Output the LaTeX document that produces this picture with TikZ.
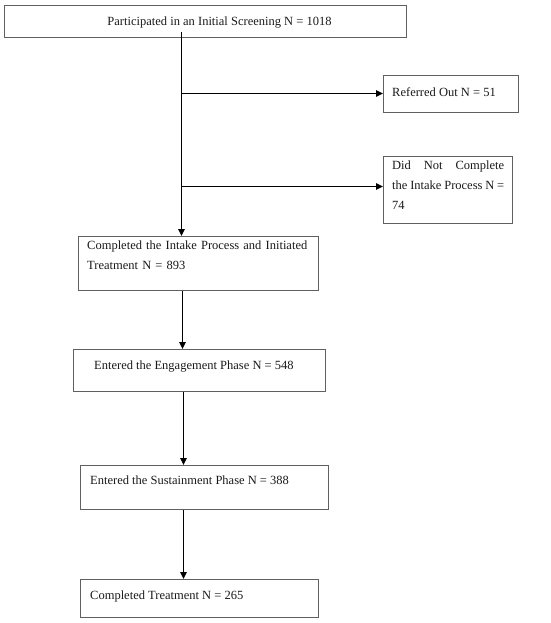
\documentclass[tikz,border=0pt]{standalone}
\usepackage{fontspec}
\setmainfont{Liberation Serif}
\usetikzlibrary{arrows.meta}
\definecolor{boxgray}{HTML}{606060}
\tikzset{
  flowbox/.style={draw=boxgray, line width=0.9pt, rectangle, inner sep=0pt, anchor=north west},
  lbl/.style={anchor=base west, inner sep=0pt, text=black!90, font=\fontsize{12.5}{20}\selectfont},
  conn/.style={draw=black, line width=1.4pt, -{Triangle[length=7pt,width=6.5pt]}},
}
\begin{document}
\begin{tikzpicture}[x=1pt,y=-1pt]
\useasboundingbox (0,0) rectangle (550,623);
% boxes
\node[flowbox, minimum width=402pt, minimum height=32pt] (screen) at (4,5) {};
\node[flowbox, minimum width=135pt, minimum height=37pt] (ref) at (383,75) {};
\node[flowbox, minimum width=129pt, minimum height=67pt] (dnc) at (383,156) {};
\node[flowbox, minimum width=240pt, minimum height=54pt] (intake) at (78,236) {};
\node[flowbox, minimum width=252pt, minimum height=42pt] (engage) at (73,349) {};
\node[flowbox, minimum width=248pt, minimum height=44pt] (sustain) at (80,465) {};
\node[flowbox, minimum width=238pt, minimum height=38pt] (done) at (80,579) {};
% texts
\node[lbl, anchor=base] (t1) at (219.5,26) {Participated in an Initial Screening N = 1018};
\node[lbl] (t2) at (392,97) {Referred Out N = 51};
\node[lbl, anchor=north west, text width=112pt, align=justify] (t3) at (392,161) {\baselineskip=20pt\emergencystretch=20pt Did Not Complete\linebreak the Intake Process N =\linebreak 74};
\node[lbl, anchor=north west, text width=232pt, align=left] (t4) at (87,241) {\baselineskip=20pt Completed the Intake Process and Initiated\\Treatment N = 893};
\node[lbl] (t5) at (94,369) {Entered the Engagement Phase N = 548};
\node[lbl] (t6) at (90,484) {Entered the Sustainment Phase N = 388};
\node[lbl] (t7) at (90,599) {Completed Treatment N = 265};
% connectors
\coordinate (top) at (181.5,32);
\coordinate (b1) at (181.5,93.5);
\coordinate (b2) at (181.5,186.5);
\draw[conn] (top) -- (top |- intake.north);
\draw[conn] (b1) -- (b1 -| ref.west);
\draw[conn] (b2) -- (b2 -| dnc.west);
\coordinate (c1) at (182.5,290);
\draw[conn] (c1 |- intake.south) -- (c1 |- engage.north);
\coordinate (c2) at (183.5,391);
\draw[conn] (c2 |- engage.south) -- (c2 |- sustain.north);
\coordinate (c3) at (183.5,509);
\draw[conn] (c3 |- sustain.south) -- (c3 |- done.north);
\end{tikzpicture}
\end{document}
